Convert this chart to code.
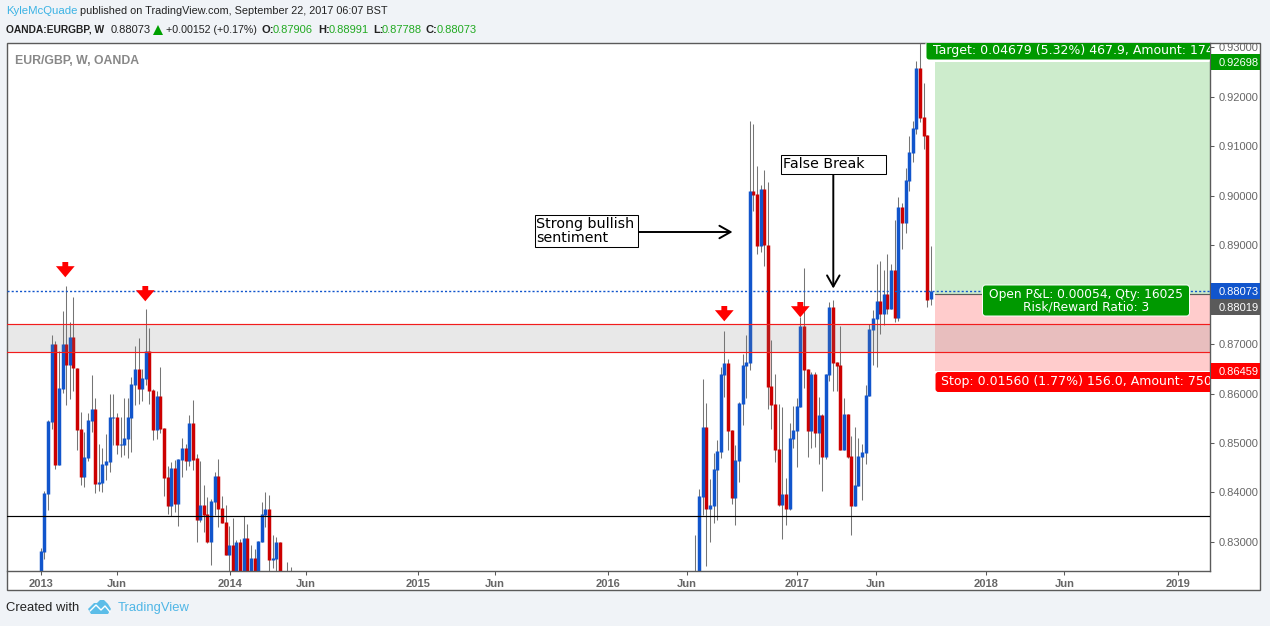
import numpy as np, pandas as pd, seaborn as sns
import matplotlib
matplotlib.use("Agg")
import matplotlib.pyplot as plt
from matplotlib.patches import FancyBboxPatch, Rectangle, Polygon
from matplotlib.transforms import Affine2D

# Weekly EUR/GBP candles, prices in units of 0.00001
open_a = [82231,82803,83969,85424,87001,84555,86091,87001,86577,87143,86509,85283,84313,84697,85445,85687,84171,84191,84555,84616,85505,85525,84959,84959,85081,85505,86172,86496,86091,86294,86860,86071,85263,85950,85303,84313,83726,84494,83767,84656,84899,84636,85404,84697,83443,83747,83565,82999,83807,84333,83686,83403,82736,82938,82298,82999,82365,83080,82365,82675,82298,82999,83544,83666,82635,82655,82999,82129,82298,82332]
high_a = [82871,84030,85465,87183,87062,86860,87668,88173,87446,87951,86509,85633,85222,85606,86374,85909,84980,84899,85182,85990,85990,85606,85525,85909,85909,86334,86961,87122,86496,87709,87324,86091,86051,86536,85303,84535,84616,84656,84676,85101,84980,85566,85869,84777,84636,84151,83908,83868,84414,84676,83928,83747,83322,83484,83039,83059,83524,83363,82938,82857,83019,83807,84009,83949,83140,83100,82999,82365,82594,82493]
low_a = [82163,82655,83645,85283,84474,84555,86011,85768,85889,86051,84858,84151,84110,84636,85222,83989,84030,84009,84252,84414,84959,84777,84717,84757,84697,84818,85768,85788,85849,86172,85788,85060,85081,85202,83928,83565,83524,83605,83322,84313,84454,84535,84454,82999,83403,83201,82978,82534,83544,83302,83383,82736,82365,82231,82197,82231,82298,82264,82298,82231,82231,82999,83309,82399,82473,82399,82231,82062,82062,82096]
close_a = [82817,83989,85445,87001,84555,86112,87001,86577,87143,86509,85263,84313,84717,85465,85687,84171,84211,84575,84636,85525,85525,84959,84980,85101,85525,86192,86496,86091,86314,86860,86051,85263,85950,85283,84292,83726,84494,83767,84676,84899,84636,85404,84656,83443,83747,83544,82999,83827,84333,83666,83383,82736,82938,82332,82999,82332,83080,82332,82675,82332,83019,83565,83666,82635,82675,82999,82332,82298,82129,82163]
open_b = [82163,82332,83908,85323,83666,83726,84454,84818,86374,86617,85263,83888,84636,85788,86556,86617,90094,90033,88982,90134,89002,86152,85788,84879,83747,83969,83666,85081,85242,85728,87365,86496,85242,86395,85202,85566,84717,86374,87749,86637,86577,84858,85586,84737,83726,84131,84717,84798,85950,87284,87506,87870,87607,88012,87709,88497,87527,89770,89447,90296,90862,91347,92580,91590,91226,87906]
high_b = [83140,84070,86294,85808,84272,84798,85060,86536,87264,86698,85263,84959,85829,86799,87183,91509,91448,90599,90215,90518,90276,87082,86395,85788,85728,84292,85404,85748,85909,87554,88537,86496,86435,86435,85930,85586,86395,87850,87890,86637,87365,85909,85586,85141,85323,85101,84980,86172,87405,87688,88618,88679,88497,88820,88618,89508,89972,89851,90559,91206,91509,92722,93079,92277,91226,88991]
low_b = [82062,82231,83544,82514,82999,83383,83443,84697,85930,84858,83767,83342,84211,85364,85909,86475,89689,88820,88861,88578,85687,85283,84616,83726,83059,83342,83645,84899,84515,85728,86112,84717,84899,84919,84575,84030,84676,86253,86051,86051,84858,84858,84697,83140,83726,84131,83848,84575,85950,86577,86536,87203,87385,87607,87709,87446,87466,88921,89245,90094,90680,91246,91489,90943,87749,87788]
close_b = [82365,83928,85323,83666,83747,84474,84838,86395,86617,85242,83888,84656,85808,86577,86637,90094,90013,88982,90134,89002,86132,85768,84858,83747,83969,83666,85101,85263,85748,87365,86475,85242,86395,85202,85566,84717,86395,87749,86617,86556,84858,85586,84717,83726,84151,84737,84818,85970,87304,87527,87870,87607,88012,87709,88497,87527,89770,89447,90316,90882,91367,92580,91569,91206,87890,88073]

START_A, START_B = 0.15, 180.85
TICK_WEEKS = [0.2,21.2,52.4,73.4,104.4,125.4,156.6,178.4,208.8,230.6,261.2,282.7,314.2]
TICK_LABELS = ["2013","Jun","2014","Jun","2015","Jun","2016","Jun","2017","Jun","2018","Jun","2019"]
PRICE_TICKS = [0.83,0.84,0.85,0.86,0.87,0.88,0.89,0.90,0.91,0.92,0.93]
TARGET, LAST, ENTRY, STOP = 0.92698, 0.88073, 0.88019, 0.86459
ZONE_TOP, ZONE_BOTTOM, SUPPORT = 0.87399, 0.86833, 0.83517
POSITION_START = 247.1

BLUE, RED, WICK = "#1155cc", "#cc0000", "#757575"
GREEN = "#009900"
BG = "#f0f3f7"
sns.set_theme(style="white")
plt.rcParams["font.family"] = ["DejaVu Sans"]
fig = plt.figure(figsize=(12.7, 6.26), dpi=100, facecolor=BG)
px = Affine2D().scale(1, -1).translate(0, 626)
XL, XR, YT, YB = 6.5, 1210, 43, 570.5
ax = fig.add_axes([XL/1270, 1-YB/626, (XR-XL)/1270, (YB-YT)/626])
ax.patch.set_visible(False)
fig.add_artist(Rectangle((6.5,43),1253.5,547,transform=px,fc="white",ec="#5a5a5a",lw=1.0,zorder=-1))

rows=[]
n=0
for start,O,H,L,C in ((START_A,open_a,high_a,low_a,close_a),(START_B,open_b,high_b,low_b,close_b)):
    for k,(o,h,l,c) in enumerate(zip(O,H,L,C)):
        rows.append(dict(candle=n,week=start+k,o=o/1e5,h=h/1e5,l=l/1e5,c=c/1e5,up=c>=o)); n+=1
cdf=pd.DataFrame(rows)
wicks=cdf.melt(id_vars=["candle","week"],value_vars=["h","l"],value_name="price")
bodies=cdf.melt(id_vars=["candle","week","up"],value_vars=["o","c"],value_name="price")

ax.fill_between([POSITION_START,400],ENTRY,TARGET,color="#cdeccc",lw=0,zorder=1)
ax.fill_between([POSITION_START,400],STOP,ENTRY,color="#ffcccc",lw=0,zorder=1)
sns.lineplot(data=wicks,x="week",y="price",units="candle",estimator=None,color=WICK,lw=0.75,ax=ax,sort=False,legend=False,zorder=2,solid_capstyle="butt")
sns.lineplot(data=bodies,x="week",y="price",units="candle",estimator=None,hue="up",palette={True:BLUE,False:RED},lw=2.5,ax=ax,sort=False,legend=False,zorder=2.1,solid_capstyle="butt")
ax.axhspan(ZONE_BOTTOM,ZONE_TOP,fc=(0.5,0.5,0.5,0.18),lw=0,zorder=3)
for v in (ZONE_TOP,ZONE_BOTTOM):
    ax.axhline(v,color="#f21c1c",lw=0.85,zorder=3.1)
ax.axhline(SUPPORT,color="black",lw=0.85,zorder=3.1)
ax.axhline(LAST,color=BLUE,lw=1.0,ls=(0,(1.5,1.5)),zorder=3.1)
ax.plot([POSITION_START,400],[ENTRY,ENTRY],color="#5a5a5a",lw=0.85,zorder=3.1)

ax.set_xlim(-9.32,322.9)
ax.set_ylim(0.82422,0.93086)
ax.set_xlabel(""); ax.set_ylabel("")
ax.yaxis.tick_right()
ax.set_yticks(PRICE_TICKS); ax.set_yticklabels(["" if v==0.88 else f"{v:.5f}" for v in PRICE_TICKS])
ax.set_xticks(TICK_WEEKS); ax.set_xticklabels(TICK_LABELS)
ax.tick_params(axis="y",length=3,width=0.75,color="#5a5a5a",labelcolor="#666666",labelsize=8,pad=3.5,left=False,right=True,labelright=True,labelleft=False)
ax.tick_params(axis="x",length=3,width=0.75,color="#5a5a5a",labelcolor="#666666",labelsize=8,pad=3,bottom=True)
for t in ax.get_yticklabels(): t.set_fontfamily("Liberation Sans")
for t in ax.get_xticklabels():
    t.set_fontfamily("Liberation Sans"); t.set_fontweight("bold")
for s in ("top","left"): ax.spines[s].set_visible(False)
for s in ("right","bottom"):
    ax.spines[s].set_color("#5a5a5a"); ax.spines[s].set_linewidth(1.0)

def tag(y0,y1,color,label):
    fig.add_artist(Rectangle((1211,y0),49,y1-y0,transform=px,fc=color,lw=0,zorder=4))
    fig.text(1238.5,(y0+y1)/2,label,transform=px,color="white",fontsize=8,family="Liberation Sans",ha="center",va="center_baseline",zorder=5)
tag(54,70,GREEN,"0.92698"); tag(283,299,BLUE,"0.88073"); tag(299,314.5,"#5a5a5a","0.88019"); tag(363,378.5,"#ff0000","0.86459")

def box(x0,y0,x1,y1,fc,ec="none",lw=0,r=3,z=5):
    p=FancyBboxPatch((x0+r,y0+r),x1-x0-2*r,y1-y0-2*r,boxstyle=f"round,pad={r},rounding_size={r}",transform=px,fc=fc,ec=ec,lw=lw,zorder=z)
    ax.add_patch(p)
    p.set_clip_path(ax.patch)
    return p
box(926,36,1225,60,GREEN,ec="white",lw=0.7)
ax.text(933,50.5,"Target: 0.04679 (5.32%) 467.9, Amount: 1746",transform=px,color="white",fontsize=9,va="center",zorder=6,clip_on=True)
box(935.5,372,1225,392,"#ff0000")
ax.text(941,381.5,"Stop: 0.01560 (1.77%) 156.0, Amount: 7500",transform=px,color="white",fontsize=9,va="center",zorder=6,clip_on=True)
box(982.5,285,1189.5,316,GREEN,ec="white",lw=0.7)
ax.text(1085.7,294.5,"Open P&L: 0.00054, Qty: 16025",transform=px,color="white",fontsize=8.8,ha="center",va="center",zorder=6)
ax.text(1085.7,306.7,"Risk/Reward Ratio: 3",transform=px,color="white",fontsize=8.8,ha="center",va="center",zorder=6)

for x,y0,y1 in ((65.3,262,277.3),(145.3,286,301.3),(724.3,306,321.3),(800.3,302,317.3)):
    ax.annotate("",xy=(x,y1),xycoords=px,xytext=(x,y0),textcoords=px,zorder=7,
        arrowprops=dict(arrowstyle="simple,head_length=0.8,head_width=1.35,tail_width=0.42",fc="#ff0000",ec="none",lw=0,shrinkA=0,shrinkB=0,mutation_scale=10))
for a,b in (((833.3,173),(833.3,288.5)),((638,232),(732.5,232))):
    ax.annotate("",xy=b,xycoords=px,xytext=a,textcoords=px,zorder=7,
        arrowprops=dict(arrowstyle="->,head_length=0.8,head_width=0.45",color="black",lw=1.4,shrinkA=0,shrinkB=0,mutation_scale=10))
ax.add_patch(Rectangle((780.5,154.5),105,19,transform=px,fc="white",ec="black",lw=0.75,zorder=8))
ax.text(783,164,"False Break",transform=px,fontsize=10.3,va="center",zorder=9,color="black")
ax.add_patch(Rectangle((535,214.5),103,32.5,transform=px,fc="white",ec="black",lw=0.75,zorder=8))
ax.text(536,224,"Strong bullish",transform=px,fontsize=10.3,va="center",zorder=9,color="black")
ax.text(536,238.5,"sentiment",transform=px,fontsize=10.3,va="center",zorder=9,color="black")

HF="Liberation Sans"
def tx(x,y,s,color="#222222",size=8.0,weight="normal"):
    fig.text(x,y,s,transform=px,color=color,fontsize=size,family=HF,weight=weight,va="center")
tx(6,11,"KyleMcQuade","#3bb3e4",size=8.2)
tx(80,11,"published on TradingView.com, September 22, 2017 06:07 BST",size=7.8)
tx(6,30,"OANDA:EURGBP, W",weight="bold",size=7.4)
tx(111,30,"0.88073")
fig.add_artist(Polygon([(153,35),(163,35),(158,25)],transform=px,fc="#00a000",lw=0))
tx(166,30,"+0.00152 (+0.17%)",size=7.7)
for lx,l,vx,v in ((262,"O:",273,"0.87906"),(318,"H:",329,"0.88991"),(373,"L:",382,"0.87788"),(426,"C:",437,"0.88073")):
    tx(lx,30,l,weight="bold"); tx(vx,30,v,"#22aa22")
ax.text(15,60.5,"EUR/GBP, W, OANDA",transform=px,color="#888888",fontsize=8.8,family=HF,weight="bold",va="center")
tx(6,608,"Created with",size=9.4)
tx(118,608,"TradingView","#4fb6e6",size=9.4)
fig.add_artist(Polygon([(88,609),(94,603),(97,603),(100,600),(104,600),(108,604),(111,609),(108,614),(91,614)],transform=px,fc="#5cbde8",lw=0))
fig.add_artist(plt.Line2D([90,96,101,105,110],[611,605,610,606,612],transform=px,color="white",lw=1.0))
fig.savefig("out.png",dpi=100,facecolor=BG)
